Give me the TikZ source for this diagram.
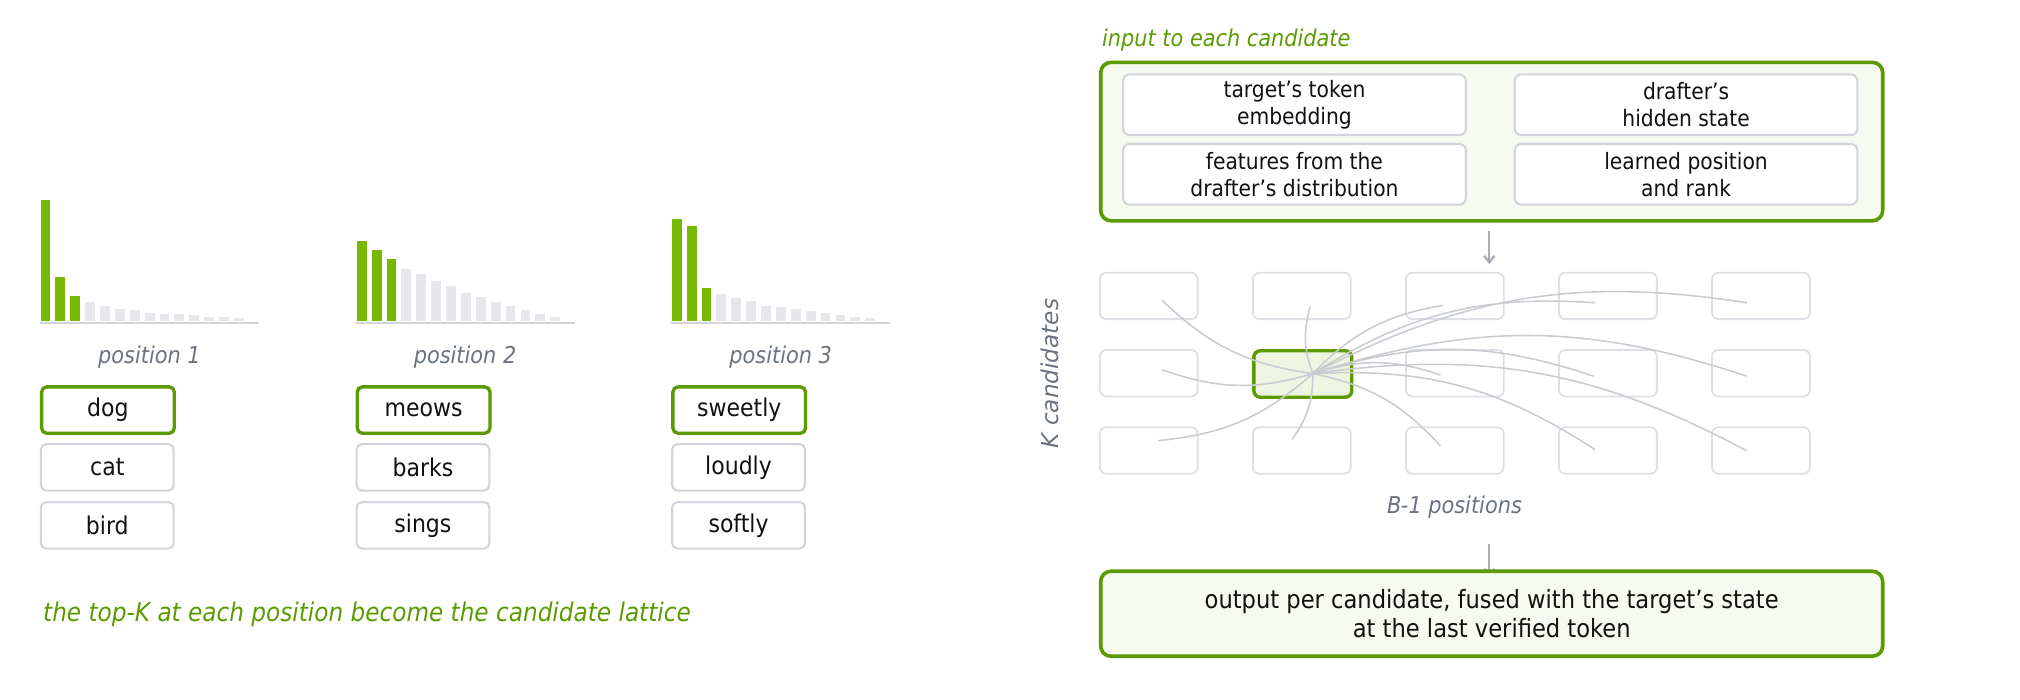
\documentclass[tikz,border=0pt]{standalone}
\usepackage{fontspec}
\usetikzlibrary{arrows.meta}
\setmainfont{DejaVu Sans Condensed}
\newfontfamily\wide{DejaVu Sans}
\definecolor{gbar}{HTML}{76B900}
\definecolor{gdark}{HTML}{5B9A00}
\definecolor{lbar}{HTML}{E5E7EB}
\definecolor{bord}{HTML}{D1D5DB}
\definecolor{lab}{HTML}{6B7280}
\definecolor{tx}{HTML}{111111}
\definecolor{pale}{HTML}{F7FAF0}
\definecolor{hl}{HTML}{EEF5E2}
\definecolor{crv}{HTML}{C8CBD0}
\definecolor{arr}{HTML}{A8ADB5}
\begin{document}
\begin{tikzpicture}[x=1pt,y=-1pt,
  tok/.style={draw=bord,line width=1.6pt,rounded corners=4pt,fill=white,minimum width=103pt,minimum height=36pt,anchor=north west,inner sep=0pt,font=\fontsize{19}{22}\selectfont,text=tx},
  tokg/.style={tok,draw=gdark,line width=2.6pt},
  inbox/.style={draw=bord,line width=1.6pt,rounded corners=5pt,fill=white,minimum width=266pt,minimum height=47pt,anchor=north west,inner sep=0pt,align=center,font=\fontsize{17.5}{21}\selectfont,text=tx},
  big/.style={draw=gdark,line width=2.8pt,rounded corners=8pt,fill=pale,minimum width=607pt,anchor=north west,inner sep=0pt,align=center},
  cell/.style={draw=bord!75,line width=1.4pt,rounded corners=5pt,minimum width=76pt,minimum height=36pt,anchor=north west,inner sep=0pt},
  poslab/.style={text=lab,font=\fontsize{18}{21}\selectfont\itshape},
  crvs/.style={draw=crv,line width=1.2pt},
  arw/.style={draw=arr,line width=1.8pt,-{Straight Barb[length=5pt,width=8pt]}}
]
\useasboundingbox (0,0) rectangle (1568,543);
% histograms
\foreach \x/\hs in {31.5/{94,33.8,19.1,14.3,11.1,9.4,8.0,6.3,5.6,5.6,4.2,3.1,3.1,2.4},
                    277/{62,54.6,47.7,40,36.5,30.6,26.8,21.9,18.1,14.9,11.1,8.0,5.6,3.1},
                    521.5/{79,73.4,25.8,20.5,17.7,15,11.8,10.4,9.4,7.3,6.3,4.2,3.1,2.4}}{
  \foreach \h [count=\i] in \hs {
    \pgfmathsetmacro\xx{\x+(\i-1)*11.55}
    \ifnum\i<4 \fill[gbar] (\xx,249) rectangle ++(7.6,-\h);
    \else \fill[lbar] (\xx,249) rectangle ++(7.6,-\h); \fi
  }
  \draw[bord,line width=1.5pt] (\x-0.5,250.5) -- ++(170,0);
}
\node[poslab] (p1) at (116,277) {position 1};
\node[poslab] (p2) at (361,277) {position 2};
\node[poslab] (p3) at (606,277) {position 3};
\node[tokg] (t11) at (31,299) {dog};
\node[tok] (t12) at (31,344) {cat};
\node[tok] (t13) at (31,389) {bird};
\node[tokg] (t21) at (276,299) {meows};
\node[tok] (t22) at (276,344) {barks};
\node[tok] (t23) at (276,389) {sings};
\node[tokg] (t31) at (521,299) {sweetly};
\node[tok] (t32) at (521,344) {loudly};
\node[tok] (t33) at (521,389) {softly};
\node[anchor=west,text=gdark,font=\fontsize{20}{24}\selectfont\itshape] (cap) at (30,477) {the top-K at each position become the candidate lattice};
% right
\node[anchor=west,text=gdark,font=\fontsize{18}{21}\selectfont\itshape] (inlab) at (852,31) {input to each candidate};
\node[big,minimum height=123pt] (inbig) at (853,47) {};
\node[inbox] (i1) at (871,57) {target's token\\embedding};
\node[inbox] (i2) at (1175,57) {drafter's\\hidden state};
\node[inbox] (i3) at (871,111) {features from the\\drafter's distribution};
\node[inbox] (i4) at (1175,111) {learned position\\and rank};
\coordinate (a1s) at (1156,179);
\coordinate (a1e) at (1156,205);
\draw[arw] (a1s) -- (a1e);
\foreach \c in {1,...,5}{
  \foreach \r in {1,2,3}{
    \pgfmathsetmacro\cx{853+(\c-1)*118.8}
    \pgfmathsetmacro\cy{211+(\r-1)*60}
    \node[cell] (c\c\r) at (\cx,\cy) {};
  }
}
\node[cell,draw=gdark,line width=2.6pt,fill=hl] (c22b) at (972,271) {};
\coordinate (hub) at (1019,290);
\foreach \ex/\ey in {902/233,1017/238,1120/237,1238/235,1356/235,902/287,1118/291,1237/292,1356/292,899/342,1003/341,1118/346,1238/349,1356/350}{
  \coordinate (e) at (\ex,\ey);
  \draw[crvs] (hub) to[bend left=18] (e);
}
\node[rotate=90,text=lab,font=\wide\fontsize{18}{21}\selectfont\itshape] (kc) at (815,290) {K candidates};
\node[poslab] (bpos) at (1129,394) {B-1 positions};
\coordinate (a2s) at (1156,422);
\coordinate (a2e) at (1156,448);
\draw[arw] (a2s) -- (a2e);
\node[big,minimum height=66pt,font=\fontsize{19.5}{23}\selectfont,text=tx] (out) at (853,442) {output per candidate, fused with the target's state\\at the last verified token};
\end{tikzpicture}
\end{document}
